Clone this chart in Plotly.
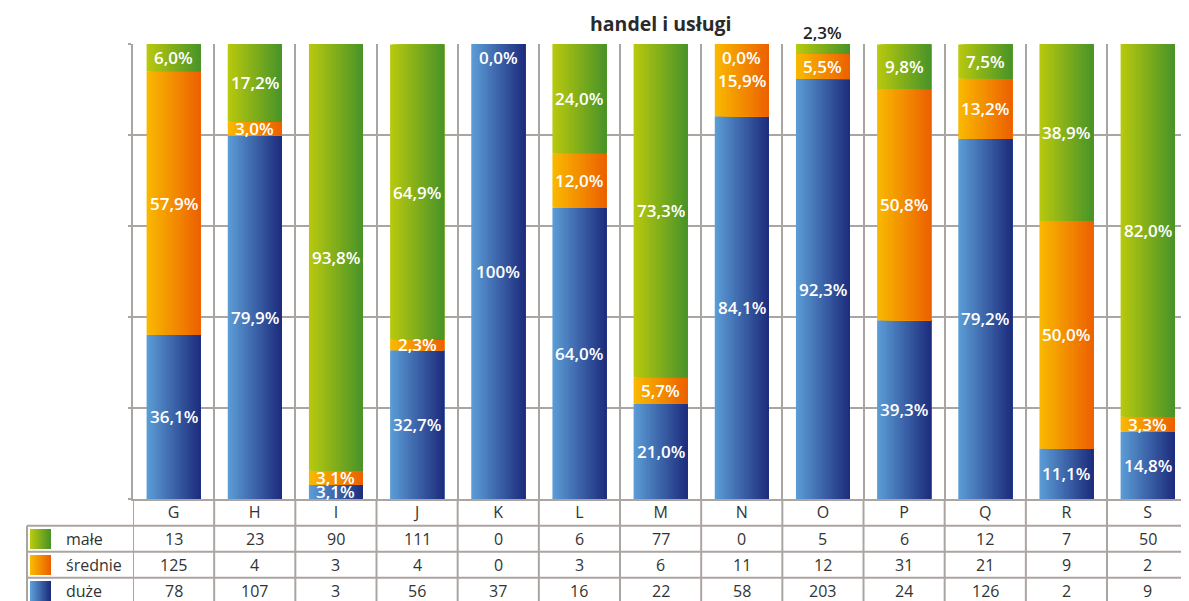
import plotly.graph_objects as go

# ---------------- data ----------------
categories = ["G", "H", "I", "J", "K", "L", "M", "N", "O", "P", "Q", "R", "S"]
series_names = ["duże", "średnie", "małe"]          # stacking order (bottom -> top)
pct_duze = [36.1, 79.9, 3.1, 32.7, 100.0, 64.0, 21.0, 84.1, 92.3, 39.3, 79.2, 11.1, 14.8]
pct_srednie = [57.9, 3.0, 3.1, 2.3, 0.0, 12.0, 5.7, 15.9, 5.5, 50.8, 13.2, 50.0, 3.3]
pct_male = [6.0, 17.2, 93.8, 64.9, 0.0, 24.0, 73.3, 0.0, 2.3, 9.8, 7.5, 38.9, 82.0]
count_male = [13, 23, 90, 111, 0, 6, 77, 0, 5, 6, 12, 7, 50]
count_srednie = [125, 4, 3, 4, 0, 3, 6, 11, 12, 31, 21, 9, 2]
count_duze = [78, 107, 3, 56, 37, 16, 22, 58, 203, 24, 126, 2, 9]
title_text = "handel i usługi"

# ---------------- style ----------------
OFF = 8                      # page body margin
W, H = 1189 - OFF, 601 - OFF
GRID = "#ABA5A1"
TXT = "#333333"
FONT = "Open Sans"
grad = {
    "małe": ((183, 200, 14), (74, 148, 40)),
    "średnie": ((249, 184, 0), (236, 98, 0)),
    "duże": ((91, 155, 213), (30, 46, 126)),
}
NSL = 24          # slices to emulate horizontal gradient
BW = 0.665        # bar width (category units)


def mix(c0, c1, t):
    return "rgb(%d,%d,%d)" % tuple(round(a + (b - a) * t) for a, b in zip(c0, c1))


def px(xp):
    return (xp - OFF) / W


def py(yp):
    return 1 - (yp - OFF) / H


def fmt(v):
    if v == 100:
        return "100%"
    return ("%.1f%%" % v).replace(".", ",")


pcts = {"duże": pct_duze, "średnie": pct_srednie, "małe": pct_male}
counts = {"małe": count_male, "średnie": count_srednie, "duże": count_duze}

fig = go.Figure()

# cumulative bases
bases = {}
cum = [0.0] * len(categories)
for s in series_names:
    bases[s] = list(cum)
    cum = [c + v for c, v in zip(cum, pcts[s])]

# bars (layered slices emulate the horizontal gradient)
for s in series_names:
    c0, c1 = grad[s]
    for i in range(NSL):
        t = i / (NSL - 1)
        start = -BW / 2 + i * BW / NSL
        fig.add_trace(go.Bar(
            x=categories, y=pcts[s], base=bases[s],
            width=BW / 2 - start,
            offset=start,
            marker=dict(color=mix(c0, c1, t), line=dict(width=0)),
            name=s, showlegend=False, hoverinfo="skip",
        ))

LBL = dict(family=FONT, size=17, color="white", weight=600)
annotations = []
# value labels
zero_done = set()
for s in series_names:
    for k, cat in enumerate(categories):
        v = pcts[s][k]
        b = bases[s][k]
        common = dict(x=cat, showarrow=False, xanchor="center")
        if v == 0:
            if cat in zero_done:
                continue
            zero_done.add(cat)
            annotations.append(dict(common, y=100, yshift=-13, yanchor="middle", text=fmt(v), font=LBL))
        elif s == "małe" and v < 3:
            annotations.append(dict(common, y=min(b + v, 100), yshift=-2, yanchor="bottom", text=fmt(v),
                                    font=dict(LBL, color="#222222")))
        else:
            annotations.append(dict(common, y=b + v / 2, yanchor="middle", text=fmt(v), font=LBL))

# title
annotations.append(dict(x=px(661), y=py(24), xref="paper", yref="paper", text="<b>%s</b>" % title_text,
                        xanchor="center", yanchor="middle",
                        showarrow=False, font=dict(family=FONT, size=19.5, color="#2a2a2a")))

# table
row_y = {"małe": 539, "średnie": 565, "duże": 591}
for s in ["małe", "średnie", "duże"]:
    for k, cat in enumerate(categories):
        annotations.append(dict(x=cat, y=py(row_y[s]), xref="x", yref="paper", text=str(counts[s][k]),
                                xanchor="center", yanchor="middle",
                                showarrow=False, font=dict(family=FONT, size=16, color=TXT)))
    annotations.append(dict(x=px(64), y=py(row_y[s]), xref="paper", yref="paper", text=s,
                            xanchor="left", yanchor="middle",
                            showarrow=False, font=dict(family=FONT, size=16, color=TXT)))

shapes = []
# table grid
for yy in [525.7, 551.7, 577.7]:
    shapes.append(dict(type="line", xref="paper", yref="paper", x0=px(27), x1=1, y0=py(yy), y1=py(yy),
                       line=dict(color=GRID, width=2)))
shapes.append(dict(type="line", xref="paper", yref="paper", x0=px(27), x1=px(27), y0=py(525.7), y1=0,
                   line=dict(color=GRID, width=2)))
for k in range(len(categories)):
    shapes.append(dict(type="line", xref="x", yref="paper", x0=k - 0.5, x1=k - 0.5, y0=py(499), y1=0,
                       line=dict(color=GRID, width=2)))
# legend swatches (gradient emulated)
for s in ["małe", "średnie", "duże"]:
    c0, c1 = grad[s]
    n = 10
    for i in range(n):
        x0 = 30 + 21 * i / n
        shapes.append(dict(type="rect", xref="paper", yref="paper", x0=px(x0), x1=px(51),
                           y0=py(row_y[s] - 10), y1=py(row_y[s] + 10),
                           fillcolor=mix(c0, c1, i / (n - 1)), line=dict(width=0)))

fig.update_layout(
    width=W, height=H,
    margin=dict(l=0, r=0, t=0, b=0),
    paper_bgcolor="white", plot_bgcolor="white",
    barmode="overlay",
    showlegend=False,
    annotations=annotations,
    shapes=shapes,
    xaxis=dict(
        domain=[px(133), 1], range=[-0.5, 12.51], type="category",
        categoryorder="array", categoryarray=categories,
        tickson="boundaries", showgrid=True, gridcolor=GRID, gridwidth=2,
        showline=True, linecolor=GRID, linewidth=2, ticks="",
        tickfont=dict(family=FONT, size=16, color=TXT), ticklabelstandoff=-2,
    ),
    yaxis=dict(
        domain=[py(499), py(44)], range=[0, 100], dtick=20,
        showgrid=True, gridcolor=GRID, gridwidth=2, zeroline=False,
        showline=True, linecolor=GRID, linewidth=2,
        ticks="outside", ticklen=3, tickcolor=GRID, tickwidth=2,
        showticklabels=False,
    ),
)

fig.write_html("out.html")
